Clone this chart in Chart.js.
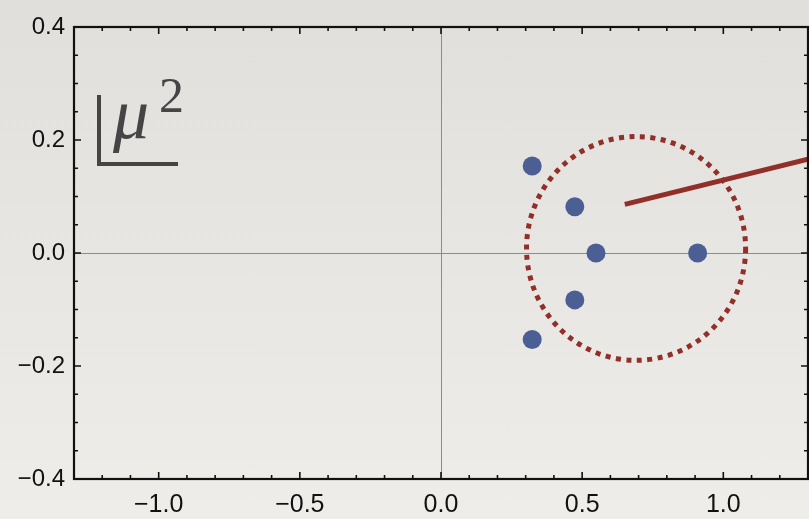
<!DOCTYPE html>
<html>
<head>
<meta charset="utf-8">
<script src="https://cdn.jsdelivr.net/npm/chart.js@4/dist/chart.umd.min.js"></script>
<style>
  html, body { margin: 0; padding: 0; }
  body { width: 809px; height: 519px; overflow: hidden;
         background: linear-gradient(#e1dfdb, #efede9); }
  canvas { display: block; }
</style>
</head>
<body>
<canvas id="c" width="809" height="519"></canvas>
<script>
// Axis ranges and labelled ticks
const xRange = [-1.3, 1.3];
const yRange = [-0.4, 0.4];
const xTickValues = [-1.0, -0.5, 0.0, 0.5, 1.0];
const yTickValues = [-0.4, -0.2, 0.0, 0.2, 0.4];
const xMinorStep = 0.1;
const yMinorStep = 0.05;

// Roots in the complex plane (real part, imaginary part)
const rootRe = [0.909, 0.549, 0.474, 0.474, 0.323, 0.323];
const rootIm = [0.000, 0.000, 0.082, -0.083, 0.154, -0.153];

// Ray leaving the disc
const rayRe = [0.651, 1.300];
const rayIm = [0.086, 0.166];

// Dotted ring: centre and half-widths in axis units
const ringCenter = [0.691, 0.008];
const ringHalfWidth = [0.388, 0.198];

const INK = '#111111';
const DOT_BLUE = '#4b5f95';
const BRICK = '#922f28';

const fmt = v => {
  const s = Math.abs(v).toFixed(1);
  return (v < -1e-9 ? '\u2212' : '') + s;
};

const framePlugin = {
  id: 'frame',
  beforeDatasetsDraw(chart) {
    const { ctx, chartArea: a, scales: { x, y } } = chart;
    ctx.save();
    // zero axes
    ctx.strokeStyle = '#8c8c8c';
    ctx.lineWidth = 1;
    const x0 = Math.round(x.getPixelForValue(0)) + 0.5;
    const y0 = Math.round(y.getPixelForValue(0)) + 0.5;
    ctx.beginPath();
    ctx.moveTo(x0, a.top); ctx.lineTo(x0, a.bottom);
    ctx.moveTo(a.left, y0); ctx.lineTo(a.right, y0);
    ctx.stroke();

    // dotted ring
    const cx = x.getPixelForValue(ringCenter[0]);
    const cy = y.getPixelForValue(ringCenter[1]);
    const rx = Math.abs(x.getPixelForValue(ringCenter[0] + ringHalfWidth[0]) - cx);
    const ry = Math.abs(y.getPixelForValue(ringCenter[1] + ringHalfWidth[1]) - cy);
    ctx.strokeStyle = BRICK;
    ctx.lineWidth = 5;
    ctx.setLineDash([5, 5.5]);
    ctx.beginPath();
    ctx.ellipse(cx, cy, rx, ry, 0, 0, Math.PI * 2);
    ctx.stroke();
    ctx.restore();
  },
  afterDraw(chart) {
    const { ctx, chartArea: a, scales: { x, y } } = chart;
    ctx.save();
    ctx.strokeStyle = INK;
    // ticks, pointing inward on all four sides
    ctx.lineWidth = 1.6;
    const major = 7, minor = 4;
    const isMajor = (v, list) => list.some(t => Math.abs(t - v) < 1e-6);
    ctx.beginPath();
    for (let v = Math.ceil(xRange[0] / xMinorStep) * xMinorStep; v <= xRange[1] + 1e-9; v += xMinorStep) {
      const px = x.getPixelForValue(v);
      const len = isMajor(v, xTickValues) ? major : minor;
      ctx.moveTo(px, a.bottom); ctx.lineTo(px, a.bottom - len);
      ctx.moveTo(px, a.top); ctx.lineTo(px, a.top + len);
    }
    for (let v = yRange[0]; v <= yRange[1] + 1e-9; v += yMinorStep) {
      const py = y.getPixelForValue(v);
      const len = isMajor(v, yTickValues) ? major : minor;
      ctx.moveTo(a.left, py); ctx.lineTo(a.left + len, py);
      ctx.moveTo(a.right, py); ctx.lineTo(a.right - len, py);
    }
    ctx.stroke();
    // frame
    ctx.lineWidth = 2.2;
    ctx.strokeRect(a.left, a.top, a.right - a.left, a.bottom - a.top);

    // μ² label with corner bracket
    const bx = a.left + 25, by = a.top + 137;
    ctx.strokeStyle = '#454545';
    ctx.fillStyle = '#454545';
    ctx.lineWidth = 4;
    ctx.beginPath();
    ctx.moveTo(bx, by - 69);
    ctx.lineTo(bx, by);
    ctx.lineTo(bx + 79, by);
    ctx.stroke();
    ctx.textBaseline = 'alphabetic';
    ctx.textAlign = 'left';
    ctx.font = 'italic 72px "Liberation Serif", "DejaVu Serif", serif';
    ctx.fillText('\u03BC', bx + 14, by - 26);
    ctx.font = '50px "Liberation Serif", "DejaVu Serif", serif';
    ctx.fillText('2', bx + 60, by - 52);
    ctx.restore();
  }
};

new Chart(document.getElementById('c'), {
  type: 'scatter',
  data: {
    datasets: [
      {
        label: 'ray',
        data: rayRe.map((v, i) => ({ x: v, y: rayIm[i] })),
        showLine: true,
        borderColor: BRICK,
        borderWidth: 5,
        pointRadius: 0,
        order: 1
      },
      {
        label: 'roots',
        data: rootRe.map((v, i) => ({ x: v, y: rootIm[i] })),
        backgroundColor: DOT_BLUE,
        borderWidth: 0,
        pointRadius: 9.5,
        pointHoverRadius: 9.5,
        order: 2
      }
    ]
  },
  options: {
    responsive: false,
    animation: false,
    devicePixelRatio: 1,
    layout: { autoPadding: false, padding: { top: 27, right: 1, left: 0, bottom: 0 } },
    plugins: { legend: { display: false }, tooltip: { enabled: false } },
    scales: {
      x: {
        type: 'linear',
        min: xRange[0], max: xRange[1],
        afterBuildTicks: s => { s.ticks = xTickValues.map(v => ({ value: v })); },
        afterFit: s => { s.height = 40; s.paddingLeft = 0; s.paddingRight = 0; },
        grid: { display: false, drawTicks: false },
        border: { display: false },
        ticks: { callback: fmt, color: INK, padding: 11, maxRotation: 0, autoSkip: false,
                 font: { family: '"Liberation Sans", Arial, sans-serif', size: 25 } }
      },
      y: {
        type: 'linear',
        min: yRange[0], max: yRange[1],
        afterBuildTicks: s => { s.ticks = yTickValues.map(v => ({ value: v })); },
        afterFit: s => { s.width = 74; s.paddingTop = 0; s.paddingBottom = 0; },
        grid: { display: false, drawTicks: false },
        border: { display: false },
        ticks: { callback: fmt, color: INK, padding: 9, autoSkip: false,
                 font: { family: '"Liberation Sans", Arial, sans-serif', size: 24 } }
      }
    }
  },
  plugins: [framePlugin]
});
</script>
</body>
</html>
